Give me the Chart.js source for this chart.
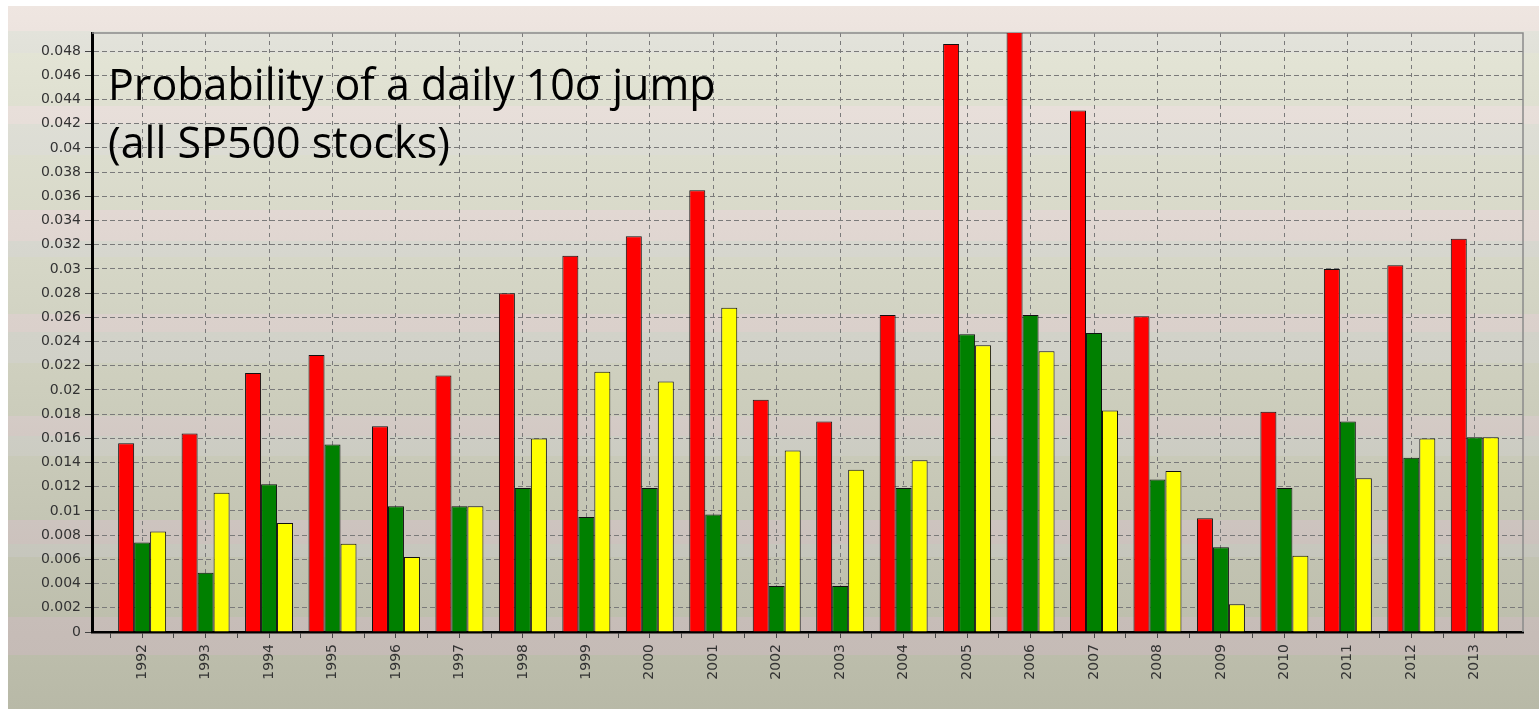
<!DOCTYPE html>
<html lang="en">

<head>
    <meta charset="utf-8" />
    <title>Probability of a daily 10 sigma jump</title>
    <script src="https://cdn.jsdelivr.net/npm/chart.js@4"></script>
    <style>
        html, body {
            margin: 0;
            padding: 0;
            background: #ffffff;
            overflow: hidden;
        }
        #backdrop {
            position: absolute;
            left: 8px;
            top: 6px;
            width: 1531px;
            height: 703px;
        }
        #chart-wrap {
            position: absolute;
            left: 0;
            top: 0;
            width: 1539px;
            height: 709px;
        }
    </style>
</head>

<body>
    <div id="backdrop"></div>
    <div id="chart-wrap">
        <canvas id="chart-jumps"></canvas>
    </div>
</body>

<script>
    // values (probability per year)
    const years = [1992, 1993, 1994, 1995, 1996, 1997, 1998, 1999, 2000, 2001, 2002,
        2003, 2004, 2005, 2006, 2007, 2008, 2009, 2010, 2011, 2012, 2013];
    const redValues = [0.0156, 0.0164, 0.0214, 0.0229, 0.0170, 0.0212, 0.0280, 0.0311, 0.0327, 0.0365, 0.0192,
        0.0174, 0.0262, 0.0486, 0.0500, 0.0431, 0.0261, 0.0094, 0.0182, 0.0300, 0.0303, 0.0325];
    const greenValues = [0.0074, 0.0049, 0.0122, 0.0155, 0.0104, 0.0104, 0.0119, 0.0095, 0.0119, 0.0097, 0.0038,
        0.0038, 0.0119, 0.0246, 0.0262, 0.0247, 0.0126, 0.0070, 0.0119, 0.0174, 0.0144, 0.0161];
    const yellowValues = [0.0083, 0.0115, 0.0090, 0.0073, 0.0062, 0.0104, 0.0160, 0.0215, 0.0207, 0.0268, 0.0150,
        0.0134, 0.0142, 0.0237, 0.0232, 0.0183, 0.0133, 0.0023, 0.0063, 0.0127, 0.0160, 0.0161];
    const titleLines = ['Probability of a daily 10\u03c3 jump', '(all SP500 stocks)'];

    // slide background: faint horizontal bands darkening towards the bottom
    const _bands = [
        [0, 25, 'p'], [25, 47, 'n'], [47, 100, 'g'], [100, 118, 'p'], [118, 149, 'n'], [149, 204, 'g'],
        [204, 235, 'p'], [235, 251, 'n'], [251, 308, 'g'], [308, 326, 'p'], [326, 357, 'n'], [357, 410, 'g'],
        [410, 430, 'p'], [430, 450, 'n'], [450, 514, 'g'], [514, 538, 'p'], [538, 551, 'n'], [551, 611, 'g'],
        [611, 649, 'p'], [649, 703, 'g']
    ];
    const _bandTop = { p: [239, 230, 225], n: [228, 228, 220], g: [230, 231, 216] };
    const _bandBottom = { p: [193, 183, 178], n: [190, 190, 180], g: [184, 185, 167] };
    const _mix = (type, y) => {
        const t = y / 703;
        const c = _bandTop[type].map((v, i) => Math.round(v + (_bandBottom[type][i] - v) * t));
        return `rgb(${c.join(',')})`;
    };
    const _stops = [];
    _bands.forEach(([a, b, type]) => {
        _stops.push(`${_mix(type, a)} ${a}px`);
        _stops.push(`${_mix(type, b)} ${b}px`);
    });
    document.getElementById('backdrop').style.background = `linear-gradient(to bottom, ${_stops.join(', ')})`;

    const _toPoints = arr => arr.map((v, i) => ({ x: years[i], y: v }));

    // a tick at every year plus one halfway between years (the small marks under the axis)
    const _yearTicks = [];
    years.forEach(y => {
        _yearTicks.push({ value: y - 0.5 });
        _yearTicks.push({ value: y });
    });
    _yearTicks.push({ value: years[years.length - 1] + 0.5 });

    const _frame = {
        id: 'frame',
        beforeDatasetsDraw(chart) {
            const { ctx, chartArea: a } = chart;
            ctx.save();
            ctx.strokeStyle = '#8a8a8a';
            ctx.lineWidth = 1.5;
            ctx.beginPath();
            ctx.moveTo(a.left, a.top);
            ctx.lineTo(a.right, a.top);
            ctx.lineTo(a.right, a.bottom);
            ctx.stroke();
            ctx.restore();
        }
    };

    const _caption = {
        id: 'caption',
        afterDraw(chart) {
            const { ctx, chartArea: a } = chart;
            ctx.save();
            ctx.fillStyle = '#000000';
            ctx.font = '43px "Open Sans"';
            ctx.textBaseline = 'alphabetic';
            ctx.fillText(titleLines[0], a.left + 16, a.top + 67);
            ctx.fillText(titleLines[1], a.left + 16, a.top + 125);
            ctx.restore();
        }
    };

    const _chart = new Chart(document.getElementById('chart-jumps').getContext('2d'), {
        type: 'bar',
        data: {
            datasets: [
                { label: 'red', data: _toPoints(redValues), backgroundColor: '#ff0000' },
                { label: 'green', data: _toPoints(greenValues), backgroundColor: '#008000' },
                { label: 'yellow', data: _toPoints(yellowValues), backgroundColor: '#ffff00' }
            ]
        },
        options: {
            responsive: true,
            maintainAspectRatio: false,
            animation: false,
            layout: { padding: { left: 0, top: 33, right: 16, bottom: 0 } },
            datasets: {
                bar: {
                    borderColor: '#111111',
                    borderWidth: 1,
                    // bar spacing is measured on the half-year ticks, so a group spans 1.512 of that
                    categoryPercentage: 1.512,
                    barPercentage: 1.0,
                    clip: 0
                }
            },
            plugins: {
                legend: { display: false },
                tooltip: { enabled: false }
            },
            scales: {
                x: {
                    type: 'linear',
                    bounds: 'data',
                    offset: false,
                    min: 1991.21,
                    max: 2013.76,
                    afterFit: scale => { scale.height = 77; },
                    afterBuildTicks: scale => { scale.ticks = _yearTicks.map(t => ({ value: t.value })); },
                    ticks: {
                        autoSkip: false,
                        minRotation: 90,
                        maxRotation: 90,
                        padding: 6,
                        color: '#333333',
                        font: { family: 'DejaVu Sans', size: 14 },
                        callback: v => Number.isInteger(v) ? String(v) : ''
                    },
                    grid: {
                        offset: false,
                        color: ctx => (ctx.tick && Number.isInteger(ctx.tick.value)) ? '#7a7a7a' : 'rgba(0,0,0,0)',
                        lineWidth: 1,
                        tickColor: '#444444',
                        tickLength: 6
                    },
                    border: { color: '#000000', width: 2.5, dash: [4, 4] }
                },
                y: {
                    bounds: 'data',
                    min: 0,
                    max: 0.0495,
                    afterFit: scale => { scale.width = 92; },
                    ticks: {
                        stepSize: 0.002,
                        includeBounds: false,
                        padding: 4,
                        color: '#333333',
                        font: { family: 'DejaVu Sans', size: 14 },
                        callback: v => String(parseFloat(v.toFixed(3)))
                    },
                    grid: {
                        color: '#7a7a7a',
                        lineWidth: 1,
                        tickColor: '#444444',
                        tickLength: 7
                    },
                    border: { color: '#000000', width: 3, dash: [5, 3] }
                }
            }
        },
        plugins: [_frame, _caption]
    });
</script>

</html>
